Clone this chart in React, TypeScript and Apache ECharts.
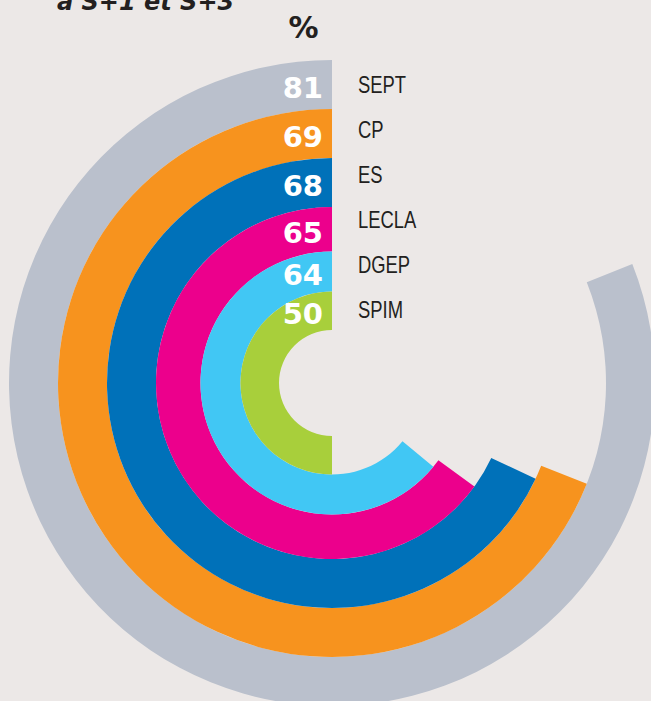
import React, { useEffect, useRef } from "react";
import * as echarts from "echarts";

// Data (outermost ring first)
const categories = ["SEPT", "CP", "ES", "LECLA", "DGEP", "SPIM"];
const values = [81, 69, 68, 65, 64, 50];
const colors = ["#bac0cc", "#f7931e", "#0071b9", "#ec008c", "#41c7f4", "#a8cf3b"];
// ring boundaries in px
const ringOuter = [323, 274, 225, 176, 131.5, 91.5];
const ringInner = [274, 225, 176, 131.5, 91.5, 53];
const titleText = "à S+1 et S+3";
const unitText = "%";

const CX = 332;
const CY = 383;
const BG = "#ece8e7";

export default function App() {
  const ref = useRef<HTMLDivElement>(null);
  useEffect(() => {
    if (!ref.current) return;
    const chart = echarts.init(ref.current, null, { renderer: "svg" });
    const series = values.map((v, i) => ({
      type: "pie",
      name: categories[i],
      center: [CX, CY],
      radius: [ringInner[i], ringOuter[i]],
      startAngle: 90,
      clockwise: false,
      silent: true,
      z: 1,
      label: { show: false },
      labelLine: { show: false },
      itemStyle: { borderWidth: 0 },
      emphasis: { disabled: true },
      data: [
        { value: v, name: categories[i], itemStyle: { color: colors[i] } },
        { value: 100 - v, name: "rest", itemStyle: { color: "rgba(0,0,0,0)" } },
      ],
    }));
    const graphics: any[] = [];
    values.forEach((v, i) => {
      const mid = (ringInner[i] + ringOuter[i]) / 2;
      graphics.push({
        type: "text",
        x: 323,
        y: CY - mid + 3.5,
        z: 100,
        style: {
          text: String(v),
          fill: "#ffffff",
          font: 'bold 29px "DejaVu Sans"',
          textAlign: "right",
          textVerticalAlign: "middle",
        },
      });
      graphics.push({
        type: "text",
        x: 358,
        y: 85 + 45 * i,
        z: 100,
        scaleX: 0.8,
        style: {
          text: categories[i],
          fill: "#231f20",
          font: '23px "Liberation Sans"',
          textAlign: "left",
          textVerticalAlign: "middle",
        },
      });
    });
    graphics.push({
      type: "text",
      x: 57,
      y: 2,
      z: 100,
      style: {
        text: titleText,
        fill: "#231f20",
        font: 'italic bold 24px "DejaVu Sans"',
        textAlign: "left",
        textVerticalAlign: "middle",
      },
    });
    graphics.push({
      type: "text",
      x: 303.5,
      y: 27,
      z: 100,
      style: {
        text: unitText,
        fill: "#231f20",
        font: 'bold 30px "DejaVu Sans"',
        textAlign: "center",
        textVerticalAlign: "middle",
      },
    });
    chart.setOption({
      animation: false,
      backgroundColor: BG,
      series,
      graphic: { elements: graphics },
    });
    return () => chart.dispose();
  }, []);
  return (
    <div
      ref={ref}
      style={{ position: "absolute", left: 0, top: 0, width: 651, height: 701 }}
    />
  );
}
